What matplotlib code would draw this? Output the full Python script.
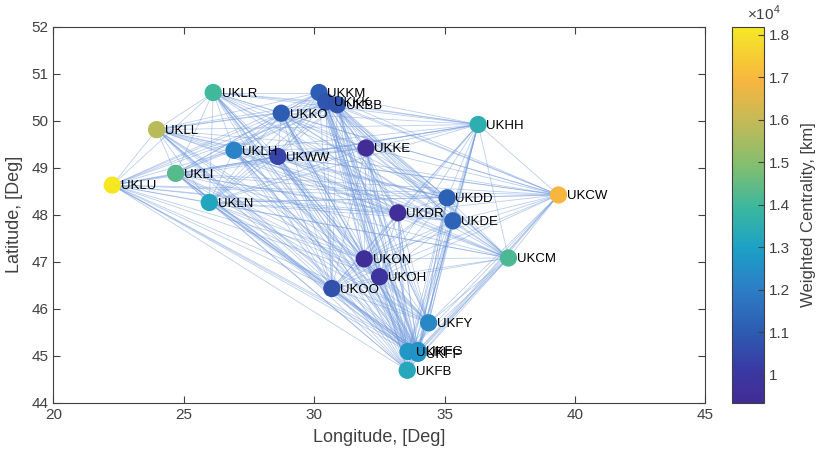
import itertools

import matplotlib
matplotlib.use("Agg")
import matplotlib.pyplot as plt
import numpy as np
from matplotlib.collections import LineCollection
from matplotlib.colors import LinearSegmentedColormap

plt.rcParams['font.family'] = ['Liberation Sans', 'DejaVu Sans']
plt.rcParams['mathtext.fontset'] = 'custom'
plt.rcParams['mathtext.rm'] = 'Liberation Sans'

# airports (ICAO), lon / lat
names = ['UKLU', 'UKLL', 'UKLR', 'UKLI', 'UKLN', 'UKLH', 'UKWW', 'UKKO',
         'UKKM', 'UKKK', 'UKBB', 'UKKE', 'UKHH', 'UKDD', 'UKDR', 'UKDE',
         'UKCW', 'UKCM', 'UKON', 'UKOH', 'UKOO', 'UKFY', 'UKFI', 'UKFF',
         'UKFG', 'UKFB']
lon = [22.26, 23.96, 26.13, 24.69, 25.98, 26.93, 28.61, 28.74,
       30.19, 30.45, 30.89, 31.99, 36.29, 35.10, 33.21, 35.32,
       39.37, 37.45, 31.92, 32.51, 30.68, 34.39, 33.60, 33.98,
       33.98, 33.57]
lat = [48.63, 49.81, 50.60, 48.88, 48.26, 49.37, 49.24, 50.16,
       50.60, 50.40, 50.34, 49.42, 49.92, 48.36, 48.04, 47.87,
       48.42, 47.08, 47.06, 46.68, 46.43, 45.70, 45.09, 45.05,
       45.11, 44.69]
# weighted centrality [km]
cent = [18190, 15800, 14000, 14300, 13150, 12150, 10350, 11050,
        11100, 10850, 10800, 9340, 13550, 11200, 9450, 11250,
        16900, 14150, 9500, 9800, 10750, 12300, 12700, 12600,
        12600, 13250]

# muted parula-like map as seen in the colorbar
cols = [(66, 44, 150), (58, 56, 162), (45, 92, 178), (45, 125, 198),
        (28, 160, 198), (60, 184, 158), (130, 190, 112), (196, 186, 86),
        (248, 182, 62), (245, 222, 45), (245, 232, 35)]
stops = [0.0, 0.08, 0.19, 0.30, 0.41, 0.52, 0.63, 0.75, 0.86, 0.97, 1.0]
cmap = LinearSegmentedColormap.from_list(
    'parula_ish', list(zip(stops, [tuple(c / 255 for c in rgb) for rgb in cols])))

fig = plt.figure(figsize=(8.19, 4.63), dpi=100)
ax = fig.add_axes([0.0651, 0.1302, 0.7961, 0.8121])
cax = fig.add_axes([0.8934, 0.1302, 0.0391, 0.8121])

# every pair of airports is linked
segs = [[(lon[i], lat[i]), (lon[j], lat[j])]
        for i, j in itertools.combinations(range(len(names)), 2)]
ax.add_collection(LineCollection(segs, colors=(0.44, 0.60, 0.86), alpha=0.48,
                                 linewidths=0.6, zorder=1))

sc = ax.scatter(lon, lat, c=cent, cmap=cmap, s=155, linewidths=0, zorder=2,
                vmin=min(cent), vmax=max(cent))
for n, x, y in zip(names, lon, lat):
    ax.annotate(n, (x, y), xytext=(6, -1), textcoords='offset points',
                va='center', ha='left', fontsize=9.5, color='black', zorder=3)

ax.set_xlim(20, 45)
ax.set_ylim(44, 52)
ax.set_xticks(np.arange(20, 46, 5))
ax.set_yticks(np.arange(44, 53, 1))
ax.set_xlabel('Longitude, [Deg]', fontsize=13, color='#404040', labelpad=5)
ax.set_ylabel('Latitude, [Deg]', fontsize=13, color='#404040', labelpad=6)
ax.tick_params(direction='in', length=5, width=0.8, colors='#404040',
               labelsize=11, top=True, right=True)
for sp in ax.spines.values():
    sp.set_color('#404040')
    sp.set_linewidth(0.8)

cb = fig.colorbar(sc, cax=cax)
cb.set_ticks(np.arange(10000, 18001, 1000))
cb.set_ticklabels(['1', '1.1', '1.2', '1.3', '1.4', '1.5', '1.6', '1.7', '1.8'])
cb.ax.tick_params(direction='in', length=4, width=0.8, colors='#404040',
                  labelsize=11)
cb.outline.set_edgecolor('#404040')
cb.outline.set_linewidth(0.8)
cb.set_label('Weighted Centrality, [km]', fontsize=12, color='#404040',
             labelpad=8)
fig.text(0.912, 0.951, r'$\times10^{4}$', fontsize=11, color='#404040',
         ha='left', va='bottom')

plt.savefig('out.png', dpi=100)
